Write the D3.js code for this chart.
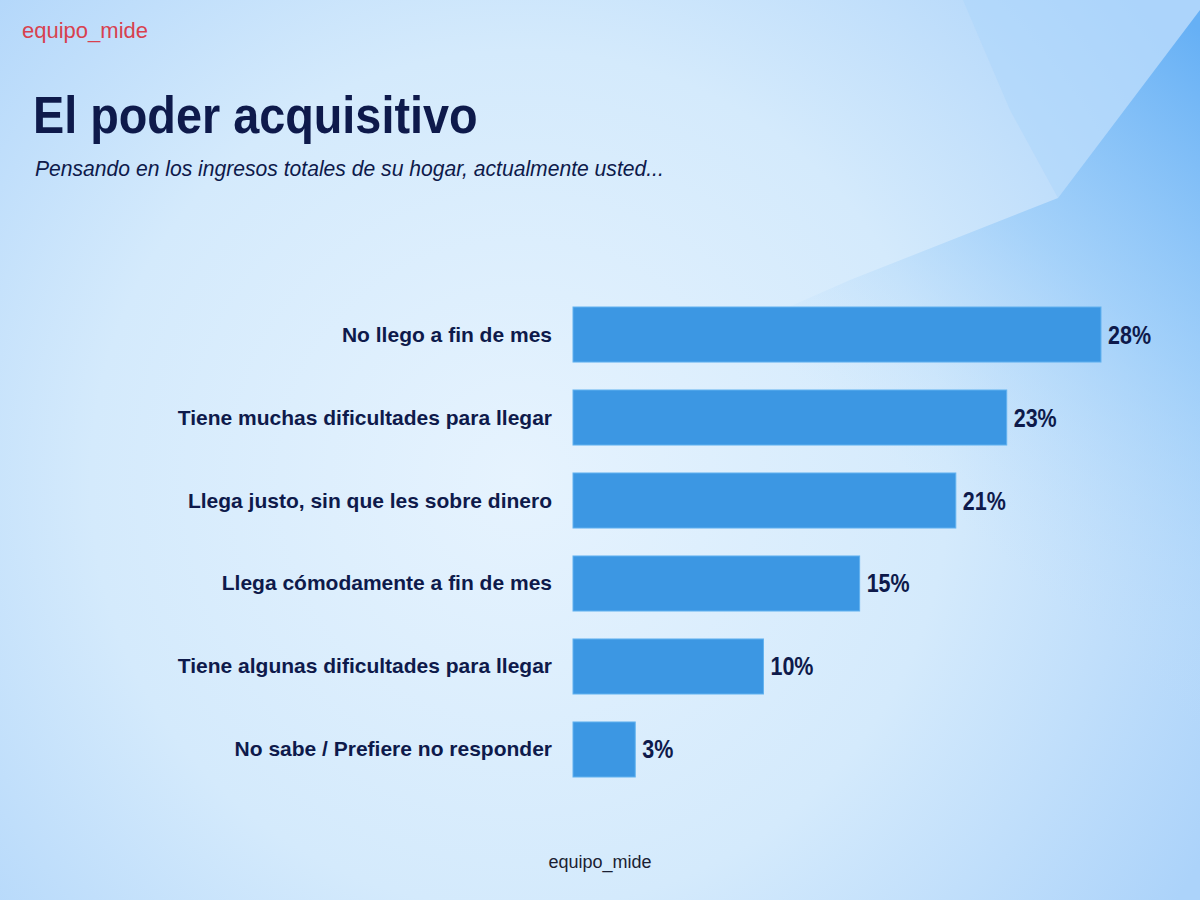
<!DOCTYPE html>
<html>
<head>
<meta charset="utf-8">
<script src="https://cdn.jsdelivr.net/npm/d3@7"></script>
<style>
  body { margin: 0; }
  svg { display: block; }
</style>
</head>
<body>
<div id="chart"></div>
<script>
// answers, in the order they are shown
var categories = [
  "No llego a fin de mes",
  "Tiene muchas dificultades para llegar",
  "Llega justo, sin que les sobre dinero",
  "Llega cómodamente a fin de mes",
  "Tiene algunas dificultades para llegar",
  "No sabe / Prefiere no responder"
];
// bar lengths
var values = [28, 23, 20.3, 15.2, 10.1, 3.3];
// the printed labels
var valueLabels = ["28%", "23%", "21%", "15%", "10%", "3%"];

var width = 1200, height = 900;
var navy = "#0e1a4b";

var svg = d3.select("#chart").append("svg")
  .attr("width", width)
  .attr("height", height);

var defs = svg.append("defs");

// background: light spot left of centre, bluer towards the edges
var bg = defs.append("radialGradient")
  .attr("id", "bg")
  .attr("gradientUnits", "userSpaceOnUse")
  .attr("cx", 520).attr("cy", 480).attr("r", 780);
bg.append("stop").attr("offset", "0").attr("stop-color", "#e6f3fe");
bg.append("stop").attr("offset", "0.55").attr("stop-color", "#d4eafc");
bg.append("stop").attr("offset", "1").attr("stop-color", "#acd3fa");

var dark = defs.append("linearGradient")
  .attr("id", "dark")
  .attr("gradientUnits", "userSpaceOnUse")
  .attr("x1", 1200).attr("y1", 30).attr("x2", 850).attr("y2", 420);
dark.append("stop").attr("offset", "0").attr("stop-color", "#66b0f5");
dark.append("stop").attr("offset", "0.5").attr("stop-color", "#97cbf9").attr("stop-opacity", 0.7);
dark.append("stop").attr("offset", "1").attr("stop-color", "#bfdffb").attr("stop-opacity", 0);

svg.append("rect")
  .attr("width", width).attr("height", height)
  .attr("fill", "url(#bg)");

// soft shapes in the top right corner
svg.append("path")
  .attr("d", "M963,0 L1010,110 L1058,198 L1200,10 L1200,0 Z")
  .attr("fill", "#acd5fb").attr("opacity", 0.5);
svg.append("path")
  .attr("d", "M1200,10 L1058,198 L850,280 L600,390 L1200,900 Z")
  .attr("fill", "url(#dark)");

// headings
svg.append("text")
  .attr("x", 22).attr("y", 38)
  .attr("font-family", "Liberation Sans, Arial, sans-serif")
  .attr("font-size", 22)
  .attr("fill", "#d8414f")
  .text("equipo_mide");

svg.append("text")
  .attr("transform", "translate(33,133) scale(0.9,1)")
  .attr("font-family", "Liberation Sans, Arial, sans-serif")
  .attr("font-weight", "bold")
  .attr("font-size", 52)
  .attr("fill", navy)
  .text("El poder acquisitivo");

svg.append("text")
  .attr("transform", "translate(35,176) scale(0.96,1)")
  .attr("font-family", "Liberation Sans, Arial, sans-serif")
  .attr("font-style", "italic")
  .attr("font-size", 22)
  .attr("fill", navy)
  .text("Pensando en los ingresos totales de su hogar, actualmente usted...");

// scales
var x = d3.scaleLinear()
  .domain([0, d3.max(values)])
  .range([573, 1101]);

var y = d3.scaleBand()
  .domain(categories)
  .range([307, 777])
  .paddingInner(0.337)
  .paddingOuter(0);

var rows = svg.append("g").selectAll("g")
  .data(categories)
  .join("g");

rows.append("rect")
  .attr("x", x(0))
  .attr("y", d => y(d))
  .attr("width", (d, i) => x(values[i]) - x(0))
  .attr("height", y.bandwidth())
  .attr("fill", "#3c97e3")
  .attr("stroke", "#62b2ef")
  .attr("stroke-width", 1);

rows.append("text")
  .attr("x", x(0) - 21)
  .attr("y", d => y(d) + y.bandwidth() / 2 + 7)
  .attr("text-anchor", "end")
  .attr("font-family", "Liberation Sans, Arial, sans-serif")
  .attr("font-weight", "bold")
  .attr("font-size", 21)
  .attr("fill", navy)
  .text(d => d);

// value labels are drawn condensed, like the original
rows.append("text")
  .attr("transform", (d, i) => "translate(" + (x(values[i]) + 7) + "," + (y(d) + y.bandwidth() / 2 + 9) + ") scale(0.86,1)")
  .attr("font-family", "Liberation Sans, Arial, sans-serif")
  .attr("font-weight", "bold")
  .attr("font-size", 25)
  .attr("fill", navy)
  .text((d, i) => valueLabels[i]);

// footer
svg.append("text")
  .attr("x", 600).attr("y", 868)
  .attr("text-anchor", "middle")
  .attr("font-family", "Liberation Sans, Arial, sans-serif")
  .attr("font-size", 18)
  .attr("fill", "#1b1f33")
  .text("equipo_mide");
</script>
</body>
</html>
